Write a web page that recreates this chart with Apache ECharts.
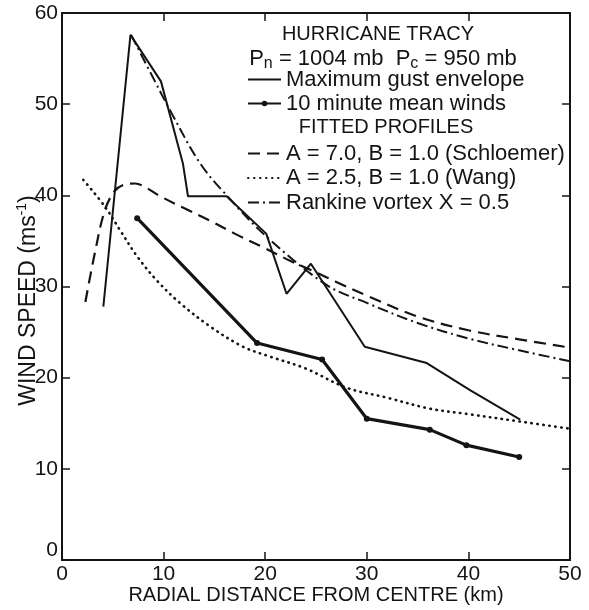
<!DOCTYPE html>
<html>
<head>
<meta charset="utf-8">
<script src="https://cdn.jsdelivr.net/npm/echarts@6/dist/echarts.min.js"></script>
<style>
html,body{margin:0;padding:0;background:#fff;}
#chart{width:589px;height:610px;}
</style>
</head>
<body>
<div id="chart"></div>
<script>
// ---- Data (x: radial distance km, y: wind speed m/s) ----
const gustPts = [[4.07,27.8],[6.74,57.6],[9.74,52.5],[11.9,43.5],[12.4,39.9],[16.2,39.9],[20.1,35.8],[22.1,29.2],[24.5,32.5],[29.8,23.4],[35.9,21.6],[40.2,18.6],[45.1,15.4]];
const meanPts = [[7.4,37.5],[19.2,23.8],[25.6,22.0],[30.0,15.5],[36.2,14.3],[39.8,12.6],[45.0,11.3]];
const schloemerPts = [[2.3,28.3],[3.2,33.5],[4.2,38.3],[5.2,40.5],[6.2,41.2],[7.2,41.3],[8.2,40.9],[9.5,40.0],[12,38.6],[14.6,37.2],[17,35.8],[19.8,34.3],[22.5,32.8],[24.7,31.7],[27,30.5],[30,29.0],[35,26.7],[40,25.2],[45,24.2],[50,23.3]];
const wangPts = [[2.1,41.7],[4.2,38.8],[5.7,36.2],[7.4,33.3],[9.3,30.7],[11.6,28.2],[14.6,25.6],[17.8,23.4],[20.5,22.3],[24,21.0],[28,18.9],[32,17.8],[36.2,16.6],[40,16.0],[45,15.2],[50,14.4]];
const rankinePts = [[6.8,57.6],[9.15,52.5],[10.6,49.4],[13.6,43.5],[16.2,40.0],[20.1,35.5],[26,30.2],[30,28.2],[35,26.0],[40,24.3],[45,23.0],[50,21.8]];

const seriesNames = ['Maximum gust envelope','10 minute mean winds','A = 7.0, B = 1.0 (Schloemer)','A = 2.5, B = 1.0 (Wang)','Rankine vortex X = 0.5'];
const xRange = [0, 50, 10];
const yRange = [0, 60, 10];
const xTitle = 'RADIAL DISTANCE FROM CENTRE (km)';
const yTitle = 'WIND SPEED (ms{sup|-1})';
const headTitle = 'HURRICANE TRACY';
const pressureLine = 'P{s|n} = 1004 mb  P{s|c} = 950 mb';
const fittedTitle = 'FITTED PROFILES';

const FONT = '"Liberation Sans", Arial, Helvetica, sans-serif';
const INK = '#141414';

const chart = echarts.init(document.getElementById('chart'), null, {renderer:'canvas'});

function axisCommon(extra){
  return Object.assign({
    type:'value',
    nameMoveOverlap:false,
    axisLine:{show:true, onZero:false, lineStyle:{color:INK, width:2}},
    axisTick:{show:true, inside:true, length:8, lineStyle:{color:INK, width:1.5}},
    splitLine:{show:false},
    axisLabel:{color:INK, fontSize:21, fontFamily:FONT}
  }, extra);
}
const hidden = {opacity:0};

const option = {
  backgroundColor:'#fff',
  animation:false,
  grid:{left:62, right:19, top:13, bottom:50, containLabel:false, outerBoundsMode:'none'},
  xAxis:[
    axisCommon({min:xRange[0], max:xRange[1], interval:xRange[2], position:'bottom',
      axisLabel:{color:INK, fontSize:21, fontFamily:FONT, margin:4},
      name:xTitle, nameLocation:'middle', nameGap:25,
      nameTextStyle:{color:INK, fontSize:20, fontFamily:FONT}}),
    axisCommon({min:xRange[0], max:xRange[1], interval:xRange[2], position:'top', axisLabel:{show:false}})
  ],
  yAxis:[
    axisCommon({min:yRange[0], max:yRange[1], interval:yRange[2], position:'left',
      axisLabel:{color:INK, fontSize:21, fontFamily:FONT, margin:4,
        formatter:function(v){ return v === 0 ? '{z|0}' : String(v); },
        rich:{z:{fontSize:21, fontFamily:FONT, color:INK, padding:[0,0,20,0]}}},
      name:yTitle, nameLocation:'middle', nameGap:20,
      nameTextStyle:{color:INK, fontSize:23, fontFamily:FONT, padding:[0,28,0,0],
        rich:{sup:{fontSize:14, fontFamily:FONT, color:INK, padding:[0,0,13,0]}}}}),
    axisCommon({min:yRange[0], max:yRange[1], interval:yRange[2], position:'right', axisLabel:{show:false}})
  ],
  legend:[
    {data:[{name:seriesNames[0], itemStyle:hidden}, {name:seriesNames[1]}], orient:'vertical', left:247, top:68, padding:0,
      itemWidth:33, itemHeight:7, itemGap:1, selectedMode:false,
      textStyle:{color:INK, fontSize:22, fontFamily:FONT, lineHeight:23}},
    {data:[{name:seriesNames[2], itemStyle:hidden}, {name:seriesNames[3], itemStyle:hidden}, {name:seriesNames[4], itemStyle:hidden}],
      orient:'vertical', left:247, top:142, padding:0,
      itemWidth:33, itemHeight:7, itemGap:1.5, selectedMode:false,
      textStyle:{color:INK, fontSize:22, fontFamily:FONT, lineHeight:23}}
  ],
  graphic:[
    {type:'text', x:378, y:24, style:{text:headTitle, align:'center', fill:INK, font:'20px '+FONT}},
    {type:'text', x:383, y:45, style:{text:pressureLine, align:'center', fill:INK, font:'22px '+FONT,
      rich:{s:{fontSize:16, fontFamily:FONT, fill:INK, padding:[11,0,0,0]}}}},
    {type:'text', x:386, y:117, style:{text:fittedTitle, align:'center', fill:INK, font:'20px '+FONT}}
  ],
  series:[
    {name:seriesNames[0], type:'line', data:gustPts, symbol:'none', color:INK,
      lineStyle:{color:INK, width:2}},
    {name:seriesNames[1], type:'line', data:meanPts, symbol:'circle', symbolSize:6, color:INK,
      itemStyle:{color:INK}, lineStyle:{color:INK, width:3.2}},
    {name:seriesNames[2], type:'line', data:schloemerPts, symbol:'none', smooth:0.35, color:INK,
      lineStyle:{color:INK, width:2.2, type:[12,7]}},
    {name:seriesNames[3], type:'line', data:wangPts, symbol:'none', smooth:0.35, color:INK,
      lineStyle:{color:INK, width:2.6, type:[0.5,5.5], cap:'round'}},
    {name:seriesNames[4], type:'line', data:rankinePts, symbol:'none', smooth:0.35, color:INK,
      lineStyle:{color:INK, width:2, type:[11,4,2,4]}}
  ]
};
chart.setOption(option);
</script>
</body>
</html>
